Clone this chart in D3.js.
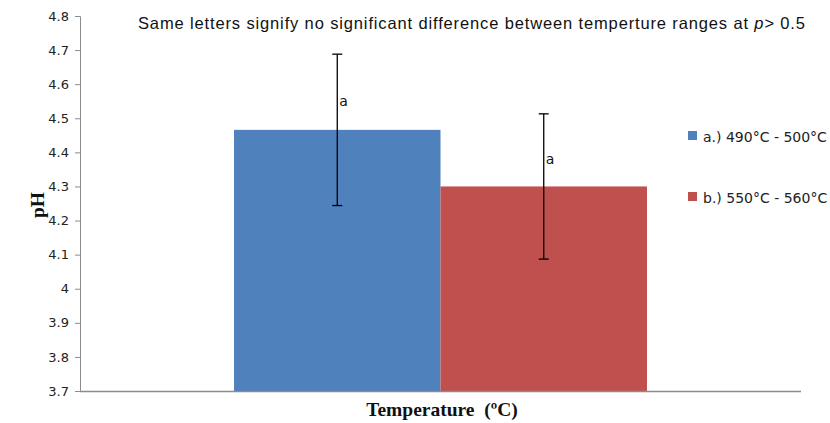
<!DOCTYPE html>
<html><head><meta charset="utf-8">
<script src="https://cdn.jsdelivr.net/npm/d3@7/dist/d3.min.js"></script>
<style>body{margin:0;background:#fff;} svg{display:block;}</style>
</head><body>
<svg id="c" width="830" height="423"></svg>
<script>
const categories = ["a.) 490°C - 500°C", "b.) 550°C - 560°C"];
const values = [4.466, 4.300];
const errors = [0.222, 0.213];
const letters = ["a", "a"];
const colors = ["#4F81BD", "#C0504D"];
const yTicks = [3.7, 3.8, 3.9, 4, 4.1, 4.2, 4.3, 4.4, 4.5, 4.6, 4.7, 4.8];

const svg = d3.select("#c");
const L = 80, R = 801, T = 16, B = 391;
const y = d3.scaleLinear().domain([3.7, 4.8]).range([B, T]);
const xg = d3.scaleBand().domain(["g"]).range([L, R]).paddingInner(0).paddingOuter(0.373);
const x = d3.scaleBand().domain(categories).range([xg("g"), xg("g") + xg.bandwidth()]);

// bars
svg.selectAll("rect.bar").data(categories).join("rect")
  .attr("x", d => x(d)).attr("width", x.bandwidth())
  .attr("y", (d, i) => y(values[i])).attr("height", (d, i) => B - y(values[i]))
  .attr("fill", (d, i) => colors[i]);

// y axis
const yAxis = d3.axisLeft(y).tickValues(yTicks).tickSize(5).tickPadding(6).tickFormat(d3.format("~g"));
const ga = svg.append("g").attr("transform", `translate(${L},0)`).call(yAxis);
ga.select(".domain").attr("stroke", "#8c8c8c");
ga.selectAll(".tick line").attr("stroke", "#8c8c8c");
ga.selectAll(".tick text").attr("font-family", "DejaVu Sans").attr("font-size", 13).attr("fill", "#222");

// x axis line
svg.append("line").attr("x1", L).attr("x2", R).attr("y1", B + 0.5).attr("y2", B + 0.5).attr("stroke", "#8c8c8c").attr("stroke-width", 1.3);

// error bars
categories.forEach((c, i) => {
  const cx = x(c) + x.bandwidth() / 2;
  const g = svg.append("g").attr("stroke", "#000").attr("stroke-width", 1.3);
  g.append("line").attr("x1", cx).attr("x2", cx).attr("y1", y(values[i] + errors[i])).attr("y2", y(values[i] - errors[i]));
  [values[i] + errors[i], values[i] - errors[i]].forEach(v => {
    g.append("line").attr("x1", cx - 5).attr("x2", cx + 5).attr("y1", y(v)).attr("y2", y(v));
  });
  svg.append("text").attr("x", cx + 2).attr("y", y(values[i] + errors[i] * 0.31))
    .attr("font-family", "DejaVu Sans").attr("font-size", 14).attr("fill", "#111").text(letters[i]);
});

// legend
categories.forEach((c, i) => {
  const ly = 136 + i * 61;
  svg.append("rect").attr("x", 688).attr("y", ly - 5).attr("width", 9).attr("height", 9).attr("fill", colors[i]);
  svg.append("text").attr("x", 703).attr("y", ly + 5.5).attr("font-family", "DejaVu Sans").attr("font-size", 14).attr("fill", "#222").text(c);
});

// title
const t = svg.append("text").attr("x", 138).attr("y", 29).attr("font-family", "Liberation Sans").attr("font-size", 16.5).attr("fill", "#111")
  .attr("textLength", 667).attr("lengthAdjust", "spacing");
t.append("tspan").text("Same letters signify no significant difference between temperture ranges at ");
t.append("tspan").attr("font-style", "italic").text("p");
t.append("tspan").text("> 0.5");

// axis titles
svg.append("text").attr("x", 442).attr("y", 416).attr("text-anchor", "middle").style("white-space", "pre")
  .attr("font-family", "Liberation Serif").attr("font-weight", "bold").attr("font-size", 19.5).attr("fill", "#111").text("Temperature  (ºC)");
svg.append("text").attr("transform", "translate(44,205) rotate(-90)").attr("text-anchor", "middle")
  .attr("font-family", "Liberation Serif").attr("font-weight", "bold").attr("font-size", 19.5).attr("fill", "#111").text("pH");
</script>
</body></html>
